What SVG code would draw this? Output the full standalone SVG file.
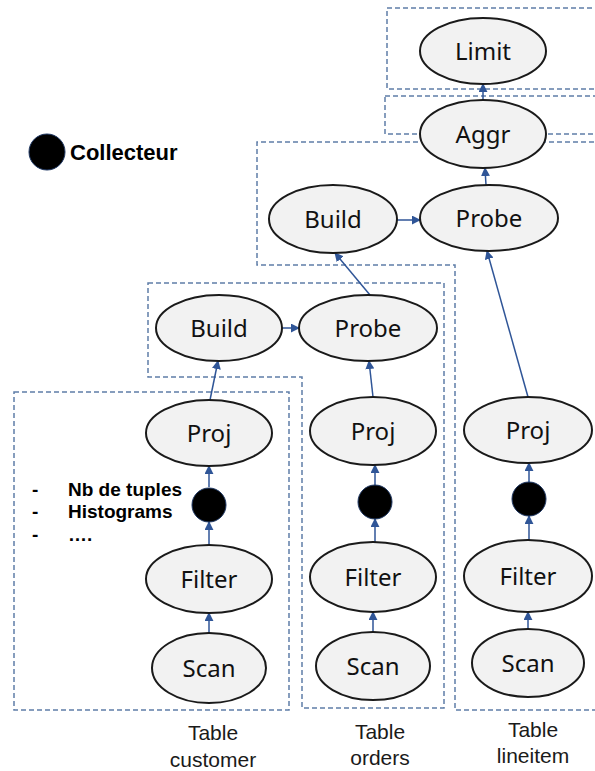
<svg xmlns="http://www.w3.org/2000/svg" width="595" height="771" viewBox="0 0 595 771">
<defs>
<marker id="ah" viewBox="0 0 10 10" refX="9" refY="5" markerWidth="9" markerHeight="9" markerUnits="userSpaceOnUse" orient="auto">
<path d="M0,0 L10,5 L0,10 Z" fill="#2f5597"/>
</marker>
<style>
.box{fill:none;stroke:#5f7ea8;stroke-width:1.5;stroke-dasharray:5,3}
.node ellipse{fill:#f2f2f2;stroke:#1a1a1a;stroke-width:2}
.node text{font-family:"Noto Sans","Open Sans",sans-serif;font-size:24px;fill:#111;text-anchor:middle}
.col{fill:#000;stroke:#1f3864;stroke-width:1}
.edge{stroke:#2f5597;stroke-width:1.5;fill:none;marker-end:url(#ah)}
.lbl{font-family:"Liberation Sans",Arial,sans-serif;font-size:21px;fill:#1a1a1a;text-anchor:middle}
.lst{font-family:"Liberation Sans",Arial,sans-serif;font-size:19px;font-weight:bold;fill:#000}
</style>
</defs>
<g id="boxes">
<rect class="box" x="387" y="8" width="215" height="81"/>
<rect class="box" x="385" y="96" width="217" height="38"/>
<path class="box" d="M602,142 H257 V265 H455 V710 H602"/>
<path class="box" d="M148,283 H444 V708 H302 V377 H148 Z"/>
<rect class="box" x="14" y="392" width="275" height="318"/>
</g>
<g id="legend">
<circle class="col" cx="47" cy="152" r="18"/>
<text x="70" y="160" style="font-family:'Liberation Sans',Arial,sans-serif;font-size:22px;font-weight:bold;fill:#000">Collecteur</text>
</g>
<g id="stats">
<text class="lst" x="32" y="496">-</text>
<text class="lst" x="68" y="496">Nb de tuples</text>
<text class="lst" x="32" y="518">-</text>
<text class="lst" x="68" y="518">Histograms</text>
<text class="lst" x="32" y="541">-</text>
<text class="lst" x="68" y="541">….</text>
</g>
<g id="connectors">
<line class="edge" x1="483" y1="100" x2="483" y2="84"/>
<line class="edge" x1="486" y1="185" x2="485" y2="168"/>
<line class="edge" x1="397" y1="220" x2="420" y2="220"/>
<line class="edge" x1="370" y1="295" x2="335" y2="253"/>
<line class="edge" x1="528" y1="397" x2="487" y2="251"/>
<line class="edge" x1="282" y1="328" x2="299" y2="328"/>
<line class="edge" x1="210" y1="400" x2="218" y2="361"/>
<line class="edge" x1="209" y1="487" x2="209" y2="466"/>
<line class="edge" x1="209" y1="545" x2="209" y2="522"/>
<line class="edge" x1="209" y1="633" x2="209" y2="613"/>
<line class="edge" x1="373" y1="397" x2="369" y2="361"/>
<line class="edge" x1="375" y1="485" x2="375" y2="465"/>
<line class="edge" x1="375" y1="542" x2="375" y2="519"/>
<line class="edge" x1="373" y1="632" x2="373" y2="612"/>
<line class="edge" x1="529" y1="482" x2="529" y2="463"/>
<line class="edge" x1="529" y1="540" x2="529" y2="516"/>
<line class="edge" x1="528" y1="629" x2="528" y2="612"/>
</g>
<g id="limit" class="node"><ellipse cx="483" cy="51" rx="63" ry="33"/><text x="483" y="60">Limit</text></g>
<g id="aggr" class="node"><ellipse cx="483" cy="134" rx="63" ry="34"/><text x="483" y="143">Aggr</text></g>
<g id="build1" class="node"><ellipse cx="333" cy="219" rx="64" ry="34"/><text x="333" y="228">Build</text></g>
<g id="probe1" class="node"><ellipse cx="489" cy="218" rx="69" ry="33"/><text x="489" y="227">Probe</text></g>
<g id="build2" class="node"><ellipse cx="219" cy="328" rx="63" ry="33"/><text x="219" y="337">Build</text></g>
<g id="probe2" class="node"><ellipse cx="368" cy="328" rx="69" ry="33"/><text x="368" y="337">Probe</text></g>
<g id="proj_c" class="node"><ellipse cx="209" cy="433" rx="63" ry="33"/><text x="209" y="442">Proj</text></g>
<g id="coll_c"><circle class="col" cx="209" cy="505" r="17"/></g>
<g id="filter_c" class="node"><ellipse cx="209" cy="579" rx="63" ry="34"/><text x="209" y="588">Filter</text></g>
<g id="scan_c" class="node"><ellipse cx="209" cy="668" rx="57" ry="35"/><text x="209" y="677">Scan</text></g>
<g id="proj_o" class="node"><ellipse cx="373" cy="431" rx="63" ry="34"/><text x="373" y="440">Proj</text></g>
<g id="coll_o"><circle class="col" cx="375" cy="502" r="17"/></g>
<g id="filter_o" class="node"><ellipse cx="373" cy="577" rx="63" ry="35"/><text x="373" y="586">Filter</text></g>
<g id="scan_o" class="node"><ellipse cx="373" cy="666" rx="57" ry="34"/><text x="373" y="675">Scan</text></g>
<g id="proj_l" class="node"><ellipse cx="528" cy="430" rx="64" ry="33"/><text x="528" y="439">Proj</text></g>
<g id="coll_l"><circle class="col" cx="529" cy="499" r="17"/></g>
<g id="filter_l" class="node"><ellipse cx="528" cy="576" rx="64" ry="36"/><text x="528" y="585">Filter</text></g>
<g id="scan_l" class="node"><ellipse cx="528" cy="663" rx="56" ry="34"/><text x="528" y="672">Scan</text></g>
<g id="labels">
<text class="lbl" x="213" y="740">Table</text>
<text class="lbl" x="213" y="767">customer</text>
<text class="lbl" x="380" y="739">Table</text>
<text class="lbl" x="380" y="765">orders</text>
<text class="lbl" x="533" y="737">Table</text>
<text class="lbl" x="533" y="763">lineitem</text>
</g>
</svg>
